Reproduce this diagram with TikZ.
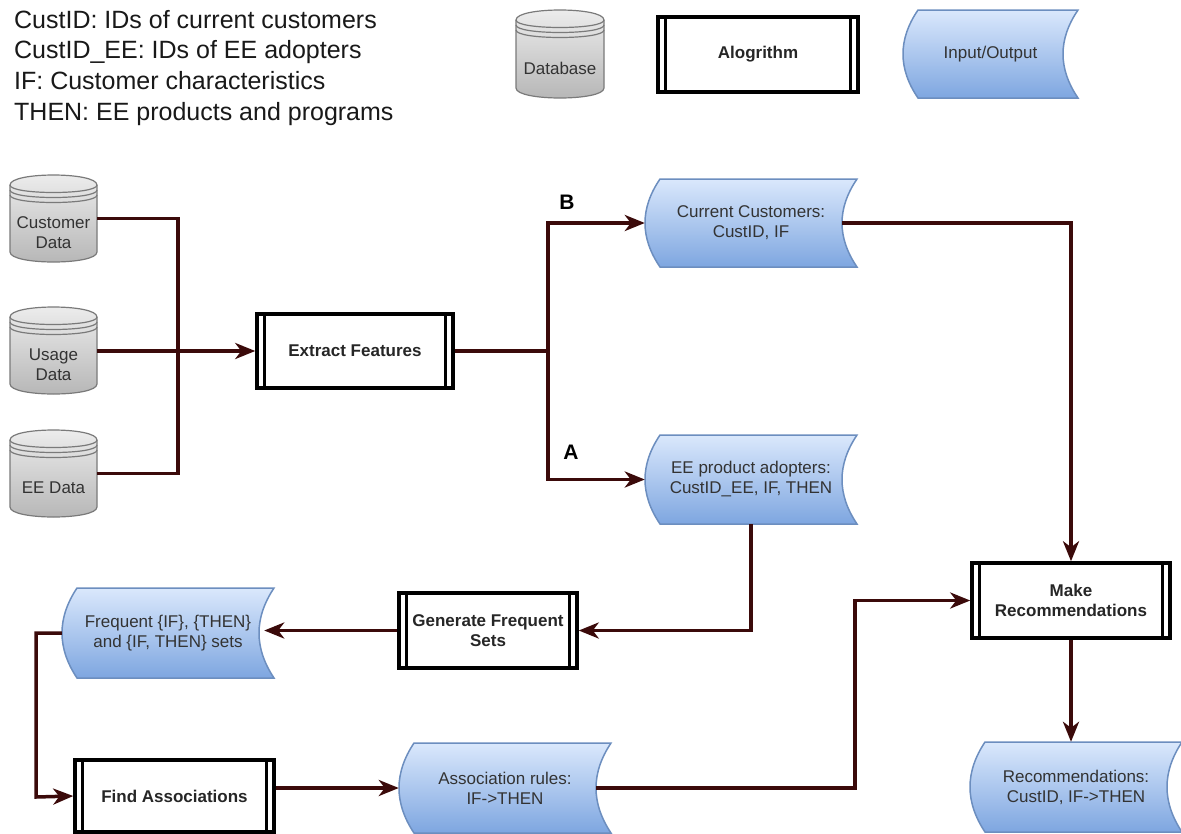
\documentclass[tikz,border=0pt]{standalone}
\usepackage{fontspec}
\setmainfont{Liberation Sans}
\usetikzlibrary{arrows.meta}
\definecolor{connc}{HTML}{3B0A0A}
\definecolor{ioborder}{HTML}{6C8EBF}
\definecolor{iotop}{HTML}{DAE8FC}
\definecolor{iobot}{HTML}{7EA6E0}
\definecolor{cyltop}{HTML}{EEEEEE}
\definecolor{cylbot}{HTML}{B5B5B5}
\definecolor{cylline}{HTML}{7A7A7A}
\definecolor{txt}{HTML}{333333}
\tikzset{
  conn/.style={draw=connc, line width=3.5pt},
  arr/.style={conn, -{Stealth[length=20pt,width=16pt,inset=6pt]}},
  procbox/.style={draw=black, line width=3.5pt, fill=white, inner sep=0pt,
    align=center, text=black!85, font=\fontsize{17}{20}\selectfont\bfseries},
  procbar/.style={draw=black, line width=3pt},
  iofill/.style={draw=ioborder, line width=1.5pt, top color=iotop, bottom color=iobot},
  iotext/.style={inner sep=0pt, align=center, text=txt, font=\fontsize{17}{20}\selectfont},
  cylfill/.style={draw=cylline, line width=1.2pt, top color=cyltop, bottom color=cylbot},
  cylrim/.style={draw=cylline, line width=1.2pt},
  cyltext/.style={inner sep=0pt, align=center, text=txt, font=\fontsize{17}{20}\selectfont},
  lbl/.style={inner sep=0pt, font=\fontsize{21}{24}\selectfont\bfseries}
}
% name, x, y, w, h, text
\newcommand\cylnode[6]{%
\begin{scope}[shift={(#2,#3)}]
\path[cylfill] (0,10) .. controls (0,-3.33) and (#4,-3.33) .. (#4,10) -- (#4,#5-10) .. controls (#4,#5+3.33) and (0,#5+3.33) .. (0,#5-10) -- cycle;
\draw[cylrim] (0,10) .. controls (0,20) and (#4,20) .. (#4,10);
\draw[cylrim] (0,15) .. controls (0,25) and (#4,25) .. (#4,15);
\draw[cylrim] (0,20) .. controls (0,30) and (#4,30) .. (#4,20);
\node[inner sep=0pt, minimum width=#4pt, minimum height=#5pt] (#1) at ({#4/2},{#5/2}) {};
\node[cyltext] (#1-t) at ({#4/2},{#5/2+14}) {#6};
\end{scope}}
\newcommand\ionode[6]{%
\begin{scope}[shift={(#2,#3)}]
\path[iofill] (15,0) -- (#4,0) .. controls (#4-20,{#5/3}) and (#4-20,{2*#5/3}) .. (#4,#5) -- (15,#5) .. controls (-5,{2*#5/3}) and (-5,{#5/3}) .. (15,0) -- cycle;
\node[iotext, minimum width=#4pt, minimum height=#5pt] (#1) at ({#4/2},{#5/2}) {#6};
\end{scope}}
\newcommand\procnode[6]{%
\node[procbox, minimum width=#4pt, minimum height=#5pt] (#1) at ({#2+#4/2},{#3+#5/2}) {#6};
\draw[procbar] ([xshift=9pt]#1.north west) -- ([xshift=9pt]#1.south west);
\draw[procbar] ([xshift=-9pt]#1.north east) -- ([xshift=-9pt]#1.south east);
}
\begin{document}
\begin{tikzpicture}[x=1pt,y=-1pt]
\useasboundingbox[fill=white] (0,0) rectangle (1181,833);

% legend
\node[anchor=north west, inner sep=0pt, align=left, text=black!90,
  font=\fontsize{25}{30.7}\selectfont] (legend) at (14,10)
  {CustID: IDs of current customers\\CustID\_EE: IDs of EE adopters\\IF: Customer characteristics\\THEN: EE products and programs};
\cylnode{lgdb}{516}{10}{88}{88}{Database}
\procnode{lgalg}{658}{17}{200}{75}{Alogrithm}
\ionode{lgio}{903}{10}{175}{88}{Input/Output}

% data sources
\cylnode{cust}{10}{175}{87}{87}{Customer\\Data}
\cylnode{usage}{10}{307}{87}{87}{Usage\\Data}
\cylnode{ee}{10}{430}{87}{87}{EE Data}

% algorithms
\procnode{extract}{257}{314}{196}{74}{Extract Features}
\procnode{genfreq}{399}{593}{178}{75}{Generate Frequent\\Sets}
\procnode{findassoc}{75}{760}{199}{72}{Find Associations}
\procnode{makerec}{972}{563}{198}{75}{Make\\Recommendations}

% input/output
\ionode{curcust}{645}{179}{212}{88}{Current Customers:\\CustID, IF}
\ionode{eeadopt}{645}{435}{212}{89}{EE product adopters:\\CustID\_EE, IF, THEN}
\ionode{freq}{62}{588}{212}{90}{Frequent \{IF\}, \{THEN\}\\and \{IF, THEN\} sets}
\ionode{assoc}{399}{743}{212}{90}{Association rules:\\IF->THEN}
\ionode{recs}{970}{742}{212}{90}{Recommendations:\\CustID, IF->THEN}

% junction coordinates
\coordinate (j1) at (178,351);
\coordinate (br) at (548,351);
\coordinate (c1) at (36,797);
\coordinate (c2) at (855,600.5);

% connectors
\draw[conn] (cust.east) -| (j1);
\draw[conn] (ee.east) -| (j1);
\draw[arr] (usage.east |- extract.west) -- (extract.west);
\draw[conn] (extract.east) -- (br);
\draw[arr] (br) |- (curcust.west);
\draw[arr] (br) |- (eeadopt.west);
\draw[arr] ([xshift=-15pt]curcust.east) -| (makerec.north);
\draw[arr] (eeadopt.south) |- (genfreq.east);
\draw[arr] (genfreq.west) -- ([xshift=-10pt]genfreq.west -| freq.east);
\draw[arr] (freq.west) -| (c1) -- (findassoc.west);
\draw[arr] (findassoc.east |- assoc.west) -- (assoc.west);
\draw[arr] ([xshift=-15pt]assoc.east) -| (c2) -- (makerec.west);
\draw[arr] (makerec.south) -- (makerec.south |- recs.north);

% branch labels
\node[lbl] (lblB) at (567,202) {B};
\node[lbl] (lblA) at (571,452) {A};
\end{tikzpicture}
\end{document}
